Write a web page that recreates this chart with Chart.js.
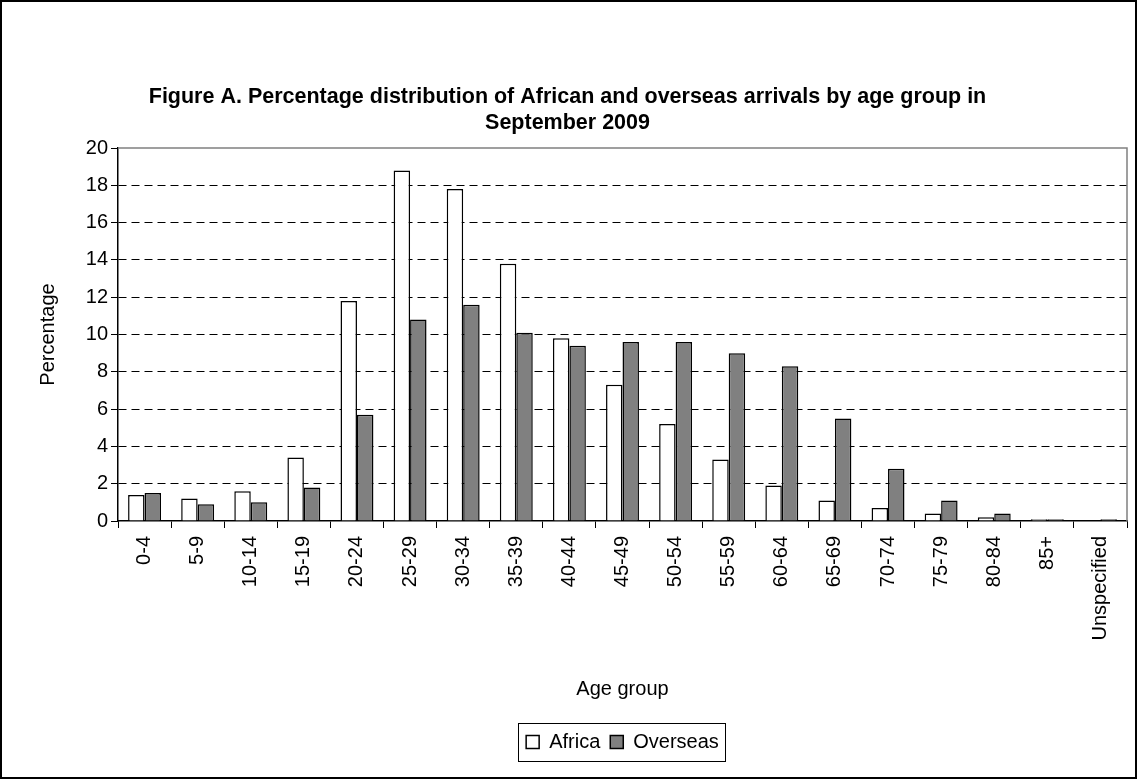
<!DOCTYPE html>
<html>
<head>
<meta charset="utf-8">
<script src="https://cdn.jsdelivr.net/npm/chart.js@4.4.0/dist/chart.umd.min.js"></script>
<style>
  html, body { margin: 0; padding: 0; background: #fff; }
  #wrap { width: 1137px; height: 779px; position: relative; }
</style>
</head>
<body>
<div id="wrap"><canvas id="c" width="1137" height="779"></canvas></div>
<script>
// ---- Data ----
const categories = ['0-4','5-9','10-14','15-19','20-24','25-29','30-34','35-39','40-44','45-49','50-54','55-59','60-64','65-69','70-74','75-79','80-84','85+','Unspecified'];
const africa   = [1.4, 1.2, 1.6, 3.4, 11.8, 18.8, 17.8, 13.8, 9.8, 7.3, 5.2, 3.3, 1.9, 1.1, 0.7, 0.4, 0.2, 0.1, 0.0];
const overseas = [1.5, 0.9, 1.0, 1.8, 5.7, 10.8, 11.6, 10.1, 9.4, 9.6, 9.6, 9.0, 8.3, 5.5, 2.8, 1.1, 0.4, 0.1, 0.1];
const seriesNames = ['Africa', 'Overseas'];
const titleLines = ['Figure A. Percentage distribution of African and overseas arrivals by age group in', 'September 2009'];
const yTitle = 'Percentage';
const xTitle = 'Age group';
const yTickStep = 2, yMin = 0, yMax = 20;

const FONT = "'Liberation Sans', Arial, sans-serif";
const PLOT_LEFT = 118;
const X_AXIS_HEIGHT = 199;
const PAD = {left: 8, right: 10, top: 0, bottom: 17};

const framePlugin = {
  id: 'frame',
  beforeDraw(chart) {
    const ctx = chart.ctx;
    ctx.save();
    ctx.fillStyle = '#fff';
    ctx.fillRect(0, 0, chart.width, chart.height);
    ctx.strokeStyle = '#000';
    ctx.lineWidth = 2;
    ctx.strokeRect(1, 1, chart.width - 2, chart.height - 2);
    ctx.restore();
  },
  beforeDatasetsDraw(chart) {
    const {ctx, chartArea: a} = chart;
    ctx.save();
    ctx.strokeStyle = '#808080';
    ctx.lineWidth = 1.5;
    ctx.beginPath();
    ctx.moveTo(a.left, a.top);
    ctx.lineTo(a.right, a.top);
    ctx.lineTo(a.right, a.bottom);
    ctx.stroke();
    ctx.restore();
  },
  afterDraw(chart) {
    const lg = chart.legend;
    if (!lg || !lg.legendHitBoxes || !lg.legendHitBoxes.length) return;
    const hb = lg.legendHitBoxes;
    let l = Infinity, r = -Infinity, t = Infinity, b = -Infinity;
    hb.forEach(h => { l = Math.min(l, h.left); r = Math.max(r, h.left + h.width); t = Math.min(t, h.top); b = Math.max(b, h.top + h.height); });
    const ctx = chart.ctx;
    ctx.save();
    ctx.strokeStyle = '#000';
    ctx.lineWidth = 1;
    ctx.strokeRect(Math.round(l - 8) + 0.5, Math.round(t - 9) + 0.5, Math.round(r - l + 14), Math.round(b - t + 18));
    ctx.restore();
  }
};

new Chart(document.getElementById('c'), {
  type: 'bar',
  data: {
    labels: categories,
    datasets: [
      { label: seriesNames[0], data: africa, backgroundColor: '#ffffff', borderColor: '#000', borderWidth: 1.5 },
      { label: seriesNames[1], data: overseas, backgroundColor: '#808080', borderColor: '#000', borderWidth: 1.5 }
    ]
  },
  options: {
    responsive: false,
    animation: false,
    devicePixelRatio: 1,
    layout: { padding: PAD },
    datasets: { bar: { categoryPercentage: 0.62, barPercentage: 1.0 } },
    plugins: {
      title: {
        display: true,
        text: titleLines,
        color: '#000',
        font: { family: FONT, size: 21.5, weight: 'bold', lineHeight: 1.21 },
        padding: { top: 84, bottom: 12 }
      },
      legend: {
        position: 'bottom',
        fullSize: false,
        labels: {
          color: '#000',
          font: { family: FONT, size: 20 },
          boxWidth: 13, boxHeight: 13,
          padding: 10
        }
      },
      tooltip: { enabled: false }
    },
    scales: {
      x: {
        grid: { display: true, drawOnChartArea: false, tickLength: 7, color: '#000', offset: true },
        border: { color: '#000', width: 1.5 },
        ticks: { color: '#000', font: { family: FONT, size: 20 }, minRotation: 90, maxRotation: 90, autoSkip: false, padding: 8 },
        title: { display: true, text: xTitle, color: '#000', font: { family: FONT, size: 20 }, padding: { top: 0, bottom: 21 } },
        afterFit(s) { s.height = X_AXIS_HEIGHT + 2; }
      },
      y: {
        min: yMin, max: yMax,
        ticks: { stepSize: yTickStep, color: '#000', font: { family: FONT, size: 20 }, padding: 3 },
        grid: {
          color: ctx => (ctx.tick && (ctx.tick.value === yMin || ctx.tick.value === yMax)) ? 'rgba(0,0,0,0)' : '#000',
          lineWidth: 1,
          tickColor: '#000',
          tickLength: 7,
          tickBorderDash: [],
          drawTicks: true
        },
        border: { color: '#000', width: 1.5, dash: [8, 5] },
        title: { display: true, text: yTitle, color: '#000', font: { family: FONT, size: 20 }, padding: { top: 28, bottom: 0 } },
        afterFit(s) { s.width = PLOT_LEFT - PAD.left; }
      }
    }
  },
  plugins: [framePlugin]
});
</script>
</body>
</html>
